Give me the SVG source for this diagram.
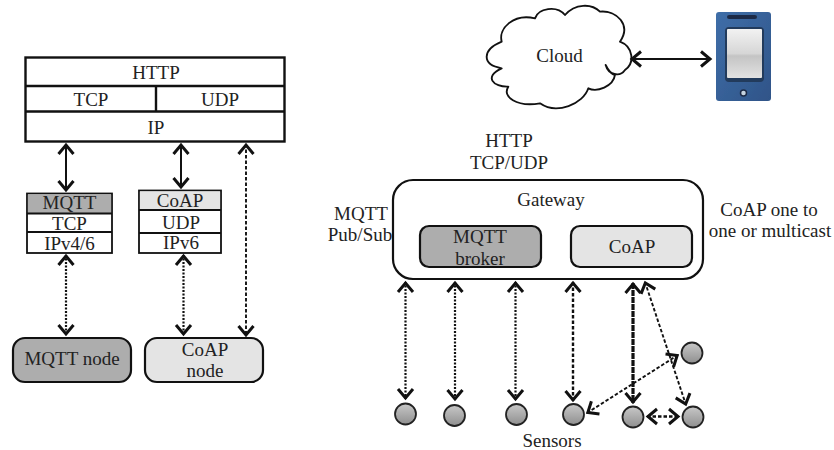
<svg xmlns="http://www.w3.org/2000/svg" width="834" height="450" viewBox="0 0 834 450">
<style>
text{font-family:"Liberation Serif","Times New Roman",serif;font-size:19px;fill:#222;text-anchor:middle}
.box{fill:#fff;stroke:#111;stroke-width:2.400}
.thin{stroke-width:1.800}
.mq{fill:#adadad}
.co{fill:#e4e4e4}
.rr{stroke:#111;stroke-width:2.200}
.sen{fill:url(#sg);stroke:#222;stroke-width:1.800}
.l{fill:none;stroke:#111;marker-start:url(#a);marker-end:url(#a)}
.solid{stroke-width:2}
.dot{stroke-width:2.200;stroke-dasharray:2 1.500}
.dash{stroke-width:1.900;stroke-dasharray:3.500 2}
</style>
<defs>
<marker id="a" viewBox="-13 -10 15 20" refX="0" refY="0" markerWidth="15" markerHeight="20" markerUnits="userSpaceOnUse" orient="auto-start-reverse">
<path d="M-10 -7.500 L-1 0 L-10 7.500" fill="none" stroke="#111" stroke-width="3"/>
</marker>
<linearGradient id="sg" x1="0" y1="0" x2="0" y2="1"><stop offset="0" stop-color="#c8c8c8"/><stop offset="1" stop-color="#8f8f8f"/></linearGradient>
<linearGradient id="pb" x1="0" y1="0" x2="1" y2="1"><stop offset="0" stop-color="#3f6ea8"/><stop offset="1" stop-color="#2f5488"/></linearGradient>
<linearGradient id="ps" x1="0" y1="0" x2="0" y2="1"><stop offset="0" stop-color="#f2f2f2"/><stop offset=".5" stop-color="#d6d6d6"/><stop offset=".55" stop-color="#c4c4c4"/><stop offset="1" stop-color="#e2e2e2"/></linearGradient>
<filter id="soft" x="-5%" y="-5%" width="110%" height="110%"><feGaussianBlur stdDeviation=".7"/></filter>
</defs>

<g id="stack-top">
<rect class="box" x="25.500" y="57.500" width="259" height="84"/>
<path d="M25.500 86H284.500M25.500 111.500H284.500M156 86V111.500" stroke="#111" stroke-width="2.400" fill="none"/>
<text x="156" y="79">HTTP</text>
<text x="91" y="106">TCP</text>
<text x="220" y="106">UDP</text>
<text x="156" y="134">IP</text>
</g>

<g id="stack-mqtt">
<rect class="box thin" x="27" y="193.500" width="85" height="59.500"/>
<rect class="mq" x="27.900" y="194.400" width="83.200" height="19"/>
<path d="M27 213.500H112M27 232H112" stroke="#111" stroke-width="1.800" fill="none"/>
<text x="69.500" y="209">MQTT</text>
<text x="69.500" y="230">TCP</text>
<text x="69.500" y="250">IPv4/6</text>
</g>

<g id="stack-coap">
<rect class="box thin" x="139" y="190.500" width="82" height="62.500"/>
<rect class="co" x="139.900" y="191.400" width="80.200" height="19"/>
<path d="M139 210H221M139 233H221" stroke="#111" stroke-width="1.800" fill="none"/>
<text x="180" y="207">CoAP</text>
<text x="181" y="229">UDP</text>
<text x="181" y="249">IPv6</text>
</g>

<g id="mqtt-node">
<rect class="mq rr" x="13" y="338" width="118" height="44" rx="12"/>
<text x="72" y="365">MQTT node</text>
</g>
<g id="coap-node">
<rect class="co rr" x="145" y="338" width="118" height="44" rx="12"/>
<text x="205" y="356">CoAP</text>
<text x="205" y="377">node</text>
</g>

<g id="cloud">
<path transform="translate(460 0) scale(.3333)" d="M125 125C115 85 160 40 225 55C235 25 290 15 315 45C345 10 395 10 420 35C470 30 515 75 480 125C520 140 525 190 495 210C480 232 445 225 437 195C445 212 455 222 465 225C460 260 410 278 385 265C370 312 290 345 240 310C170 322 125 290 145 260C100 262 70 230 125 205C65 195 65 150 125 125Z" fill="#fff" stroke="#111" stroke-width="5.600" stroke-linejoin="round"/>
<text x="559.500" y="62">Cloud</text>
</g>

<g id="phone" filter="url(#soft)">
<rect x="716" y="12" width="55" height="89" rx="3" fill="url(#pb)"/>
<rect x="727" y="15" width="30" height="4" rx="2" fill="#1d2c46"/>
<rect x="725" y="27" width="39" height="55" rx="4" fill="#243a5c"/>
<rect x="727" y="29" width="35" height="49" rx="1" fill="url(#ps)"/>
<circle cx="743.500" cy="93" r="3" fill="#c5d3df" stroke="#1d2c46" stroke-width="1.500"/>
</g>

<g id="gateway">
<rect x="393" y="180" width="310" height="99" rx="20" fill="#fff" stroke="#111" stroke-width="2.200"/>
<text x="551" y="206">Gateway</text>
</g>
<g id="mqtt-broker">
<rect class="mq rr" x="420" y="226" width="121" height="41" rx="9"/>
<text x="480" y="243">MQTT</text>
<text x="480" y="265">broker</text>
</g>
<g id="coap-gw">
<rect class="co rr" x="571" y="226" width="121" height="41" rx="9"/>
<text x="632" y="253">CoAP</text>
</g>

<g id="labels">
<text x="509" y="147">HTTP</text>
<text x="509" y="169">TCP/UDP</text>
<text x="361" y="220">MQTT</text>
<text x="360" y="241">Pub/Sub</text>
<text x="769" y="216">CoAP one to</text>
<text x="770" y="237">one or multicast</text>
<text x="552" y="447">Sensors</text>
</g>

<g id="sensor-1"><circle class="sen" cx="405.500" cy="414" r="10.500"/></g>
<g id="sensor-2"><circle class="sen" cx="454.500" cy="415.500" r="10.500"/></g>
<g id="sensor-3"><circle class="sen" cx="516.500" cy="414.500" r="10.500"/></g>
<g id="sensor-4"><circle class="sen" cx="573.500" cy="414.500" r="10.500"/></g>
<g id="sensor-5"><circle class="sen" cx="633" cy="417" r="10.500"/></g>
<g id="sensor-6"><circle class="sen" cx="693" cy="417" r="10.500"/></g>
<g id="sensor-7"><circle class="sen" cx="692" cy="353" r="10.500"/></g>

<g id="connectors">
<path class="l solid" d="M66 144V191"/>
<path class="l solid" d="M181 144V188"/>
<path class="l dash" d="M246 144V336"/>
<path class="l dot" d="M66 255V335"/>
<path class="l dot" d="M183.500 255V335"/>
<path class="l solid" d="M631 59H711"/>
<path class="l dot" d="M405.500 282V399"/>
<path class="l dot" d="M455 282V400"/>
<path class="l dot" d="M515.500 282V400"/>
<path class="l dash" style="stroke-width:2.400" d="M573 282V401"/>
<path class="l dash" style="stroke-width:3.200;stroke-dasharray:6 1" d="M633 283V403"/>
<path class="l dash" d="M645 282L686 405"/>
<path class="l dash" d="M587 413L678 355"/>
<path class="l dash" style="stroke-width:2.400" d="M647 416.500H679"/>
</g>
</svg>
